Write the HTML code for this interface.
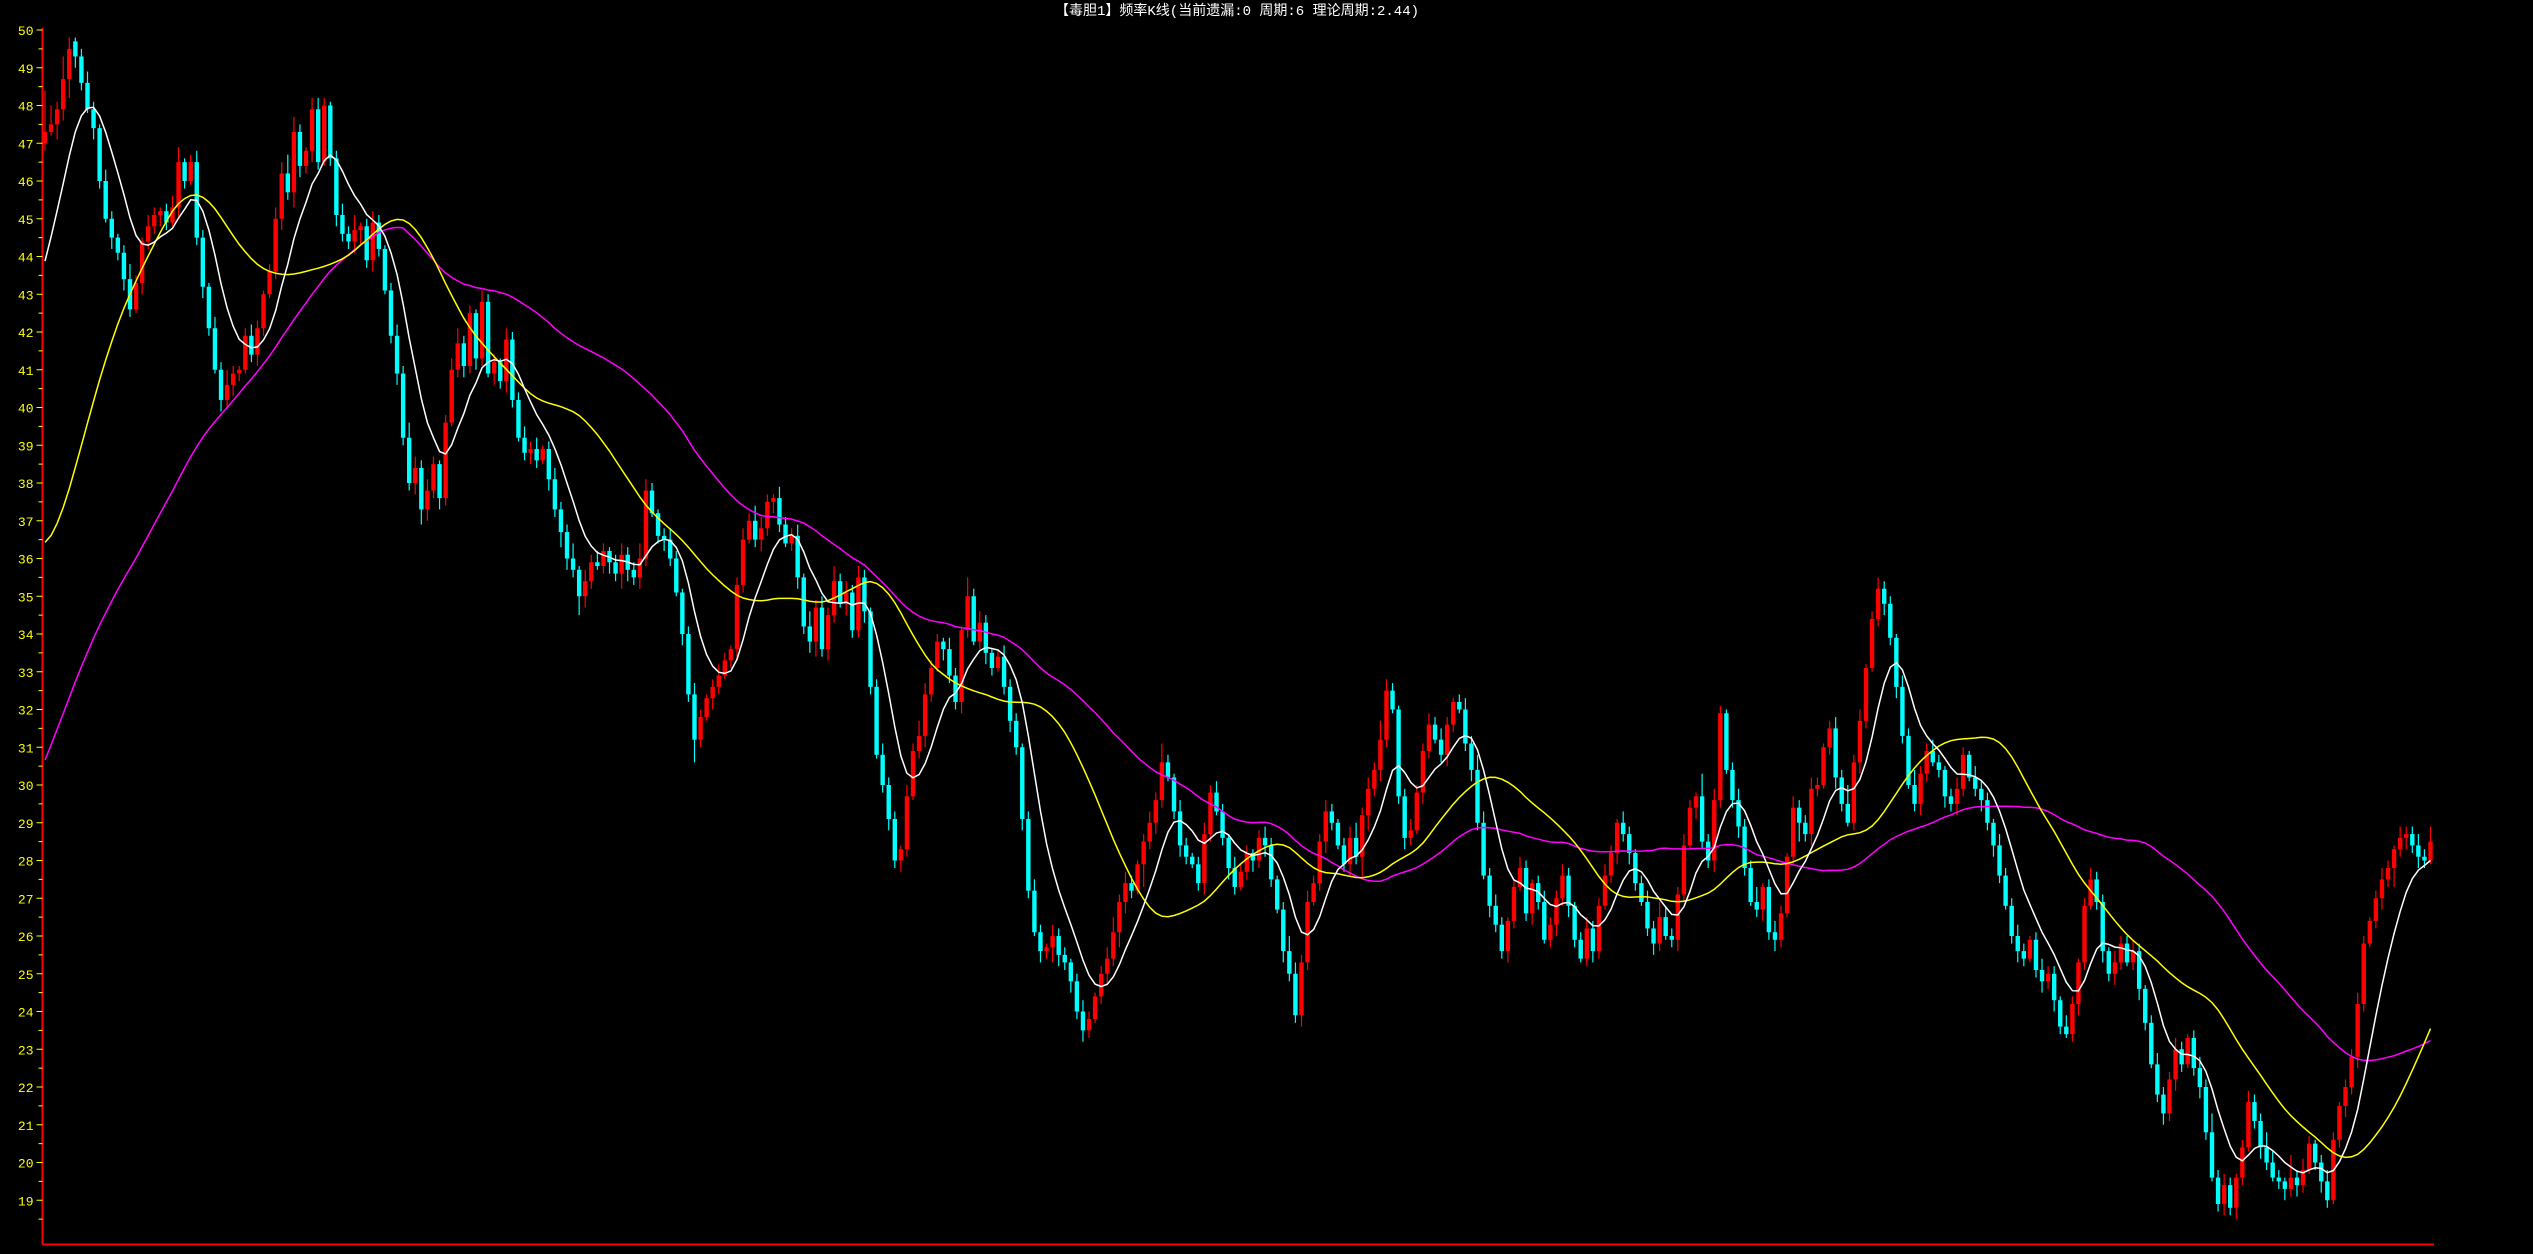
<!DOCTYPE html>
<html><head><meta charset="utf-8"><title>频率K线</title>
<style>
html,body{margin:0;padding:0;background:#000;width:2533px;height:1254px;overflow:hidden}
svg{display:block}
</style></head>
<body>
<svg id="chart" width="2533" height="1254" xmlns="http://www.w3.org/2000/svg">
<rect x="0" y="0" width="2533" height="1254" fill="#000"/>
<text x="1237" y="15" fill="#ffffff" font-size="14" text-anchor="middle" font-family="'Liberation Mono','Noto Sans CJK SC',monospace">【毒胆1】频率K线(当前遗漏:0 周期:6 理论周期:2.44)</text>
<g id="axis"></g>
<g id="candles"></g>
<g id="lines"></g>
</svg>
<script>
const closes=[47.3,47.5,47.9,48.7,49.5,49.3,48.6,47.9,47.4,46.0,
45.0,44.5,44.1,43.4,42.6,43.3,44.4,44.8,45.1,45.2,
44.9,45.3,46.5,46.0,46.5,44.5,43.2,42.1,41.0,40.2,
40.6,40.9,41.0,41.9,41.4,42.1,43.0,43.6,45.0,46.2,
45.7,47.3,46.4,46.8,47.9,46.5,48.0,46.6,45.1,44.6,
44.4,44.7,44.8,43.9,44.9,44.2,43.1,41.9,40.9,39.2,
38.0,38.4,37.3,37.8,38.5,37.6,39.6,41.0,41.7,41.1,
42.5,41.3,42.8,40.9,41.2,40.7,41.8,40.2,39.2,38.8,
38.9,38.6,38.9,38.1,37.3,36.7,36.0,35.7,35.0,35.4,
35.9,35.8,36.2,35.9,35.6,36.1,35.7,35.5,36.0,37.8,
37.2,36.6,36.5,36.0,35.1,34.0,32.4,31.2,31.8,32.3,
32.6,32.9,33.3,33.6,35.3,36.5,37.0,36.5,36.8,37.5,
37.6,36.9,36.4,36.6,35.5,34.2,33.8,34.7,33.6,34.5,
35.4,34.8,35.1,34.1,35.5,34.6,32.6,30.8,30.0,29.1,
28.0,28.3,29.7,30.9,31.3,32.4,33.1,33.8,33.6,32.9,
32.2,34.1,35.0,33.8,34.3,33.5,33.1,33.4,32.6,31.7,
31.0,29.1,27.2,26.1,25.6,25.7,26.0,25.5,25.3,24.8,
24.0,23.5,23.8,24.4,25.0,25.4,26.1,26.9,27.4,27.2,
27.9,28.5,29.0,29.6,30.6,30.2,29.3,28.4,28.1,27.9,
27.4,28.7,29.8,29.3,28.6,27.8,27.3,27.7,28.2,28.0,
28.6,28.4,27.5,26.7,25.6,25.0,23.9,25.3,26.9,27.4,
28.5,29.3,29.0,28.4,27.9,28.6,28.1,29.2,29.9,30.4,
31.2,32.5,32.0,29.7,28.6,28.8,29.8,30.9,31.6,31.2,
30.8,31.6,32.2,32.0,31.1,30.4,29.0,27.6,26.8,26.3,
25.6,26.4,27.3,27.8,26.6,27.4,26.9,25.9,26.3,27.0,
27.6,26.8,25.9,25.4,26.2,25.6,26.8,27.6,28.2,29.0,
28.7,28.2,27.4,26.9,26.2,25.8,26.5,26.0,25.9,27.1,
28.4,29.4,29.7,28.5,28.0,29.6,31.9,30.4,29.6,28.9,
27.8,26.9,26.7,27.3,26.1,25.9,26.6,28.1,29.4,29.0,
28.7,29.9,30.0,31.0,31.5,30.2,29.5,29.0,30.6,31.7,
33.1,34.4,35.2,34.8,33.9,32.6,31.3,30.0,29.5,30.3,
30.9,30.6,30.4,29.7,29.5,29.9,30.8,30.2,29.9,29.6,
29.0,28.4,27.6,26.8,26.0,25.6,25.4,25.9,25.1,24.8,
25.0,24.3,23.6,23.4,24.2,25.3,26.8,27.5,26.9,25.6,
25.0,25.3,25.8,25.3,25.6,24.6,23.7,22.6,21.8,21.3,
22.2,23.0,22.6,23.3,22.5,22.0,20.8,19.6,18.9,19.4,
18.8,19.6,20.4,21.6,21.1,20.4,20.0,19.6,19.5,19.3,
19.6,19.4,19.8,20.5,20.0,19.5,19.0,20.6,21.5,22.0,
22.8,24.2,25.8,26.4,27.0,27.5,27.8,28.3,28.6,28.7,
28.4,28.1,28.0,28.5];
const opens=[47.0,47.3,47.5,47.9,48.7,49.7,49.3,48.6,47.9,47.4,
46.0,45.0,44.5,44.1,43.4,42.6,43.3,44.4,44.8,45.1,
45.2,44.9,45.3,46.5,46.0,46.5,44.5,43.2,42.1,41.0,
40.2,40.6,40.9,41.0,41.9,41.4,42.1,43.0,43.6,45.0,
46.2,45.7,47.3,46.4,46.8,47.9,46.5,48.0,46.6,45.1,
44.6,44.4,44.7,44.8,43.9,44.9,44.2,43.1,41.9,40.9,
39.2,38.0,38.4,37.3,37.8,38.5,37.6,39.6,41.0,41.7,
41.1,42.5,41.3,42.8,40.9,41.2,40.7,41.8,40.2,39.2,
38.8,38.9,38.6,38.9,38.1,37.3,36.7,36.0,35.7,35.0,
35.4,35.9,35.8,36.2,35.9,35.6,36.1,35.7,35.5,36.0,
37.8,37.2,36.6,36.5,36.0,35.1,34.0,32.4,31.2,31.8,
32.3,32.6,32.9,33.3,33.6,35.3,36.5,37.0,36.5,36.8,
37.5,37.6,36.9,36.4,36.6,35.5,34.2,33.8,34.7,33.6,
34.5,35.4,34.8,35.1,34.1,35.5,34.6,32.6,30.8,30.0,
29.1,28.0,28.3,29.7,30.9,31.3,32.4,33.1,33.8,33.6,
32.9,32.2,34.1,35.0,33.8,34.3,33.5,33.1,33.4,32.6,
31.7,31.0,29.1,27.2,26.1,25.6,25.7,26.0,25.5,25.3,
24.8,24.0,23.5,23.8,24.4,25.0,25.4,26.1,26.9,27.4,
27.2,27.9,28.5,29.0,29.6,30.6,30.2,29.3,28.4,28.1,
27.9,27.4,28.7,29.8,29.3,28.6,27.8,27.3,27.7,28.2,
28.0,28.6,28.4,27.5,26.7,25.6,25.0,23.9,25.3,26.9,
27.4,28.5,29.3,29.0,28.4,27.9,28.6,28.1,29.2,29.9,
30.4,31.2,32.5,32.0,29.7,28.6,28.8,29.8,30.9,31.6,
31.2,30.8,31.6,32.2,32.0,31.1,30.4,29.0,27.6,26.8,
26.3,25.6,26.4,27.3,27.8,26.6,27.4,26.9,25.9,26.3,
27.0,27.6,26.8,25.9,25.4,26.2,25.6,26.8,27.6,28.2,
29.0,28.7,28.2,27.4,26.9,26.2,25.8,26.5,26.0,25.9,
27.1,28.4,29.4,29.7,28.5,28.0,29.6,31.9,30.4,29.6,
28.9,27.8,26.9,26.7,27.3,26.1,25.9,26.6,28.1,29.4,
29.0,28.7,29.9,30.0,31.0,31.5,30.2,29.5,29.0,30.6,
31.7,33.1,34.4,35.2,34.8,33.9,32.6,31.3,30.0,29.5,
30.3,30.9,30.6,30.4,29.7,29.5,29.9,30.8,30.2,29.9,
29.6,29.0,28.4,27.6,26.8,26.0,25.6,25.4,25.9,25.1,
24.8,25.0,24.3,23.6,23.4,24.2,25.3,26.8,27.5,26.9,
25.6,25.0,25.3,25.8,25.3,25.6,24.6,23.7,22.6,21.8,
21.3,22.2,23.0,22.6,23.3,22.5,22.0,20.8,19.6,18.9,
19.4,18.8,19.6,20.4,21.6,21.1,20.4,20.0,19.6,19.5,
19.3,19.6,19.4,19.8,20.5,20.0,19.5,19.0,20.6,21.5,
22.0,22.8,24.2,25.8,26.4,27.0,27.5,27.8,28.3,28.6,
28.7,28.4,28.1,28.0];
// closes before the visible window (feed the moving averages only)
const priorCloses=[23.0,23.4,23.1,23.8,24.2,24.0,24.6,25.1,24.8,25.3,
25.7,25.4,26.0,26.3,26.1,26.6,26.9,26.7,27.2,27.5,
27.3,27.8,28.1,27.9,28.4,28.6,28.3,28.9,29.2,29.0,
29.5,29.8,29.6,30.1,30.4,30.2,30.7,31.0,30.8,31.3,
32.0,32.6,33.1,33.5,34.0,34.4,34.9,35.3,35.6,36.0,
36.3,36.7,37.1,37.5,37.9,38.3,38.7,39.1,39.6,40.2];
// wick extents above/below body, in tenths
const upperWicks=[11,5,2,6,3,1,2,3,2,1,3,2,1,2,4,2,1,3,2,1,
2,3,4,1,2,3,2,1,3,2,4,2,1,2,3,2,1,2,3,3,5,4,2,1,3,3,2,1,2,3,
2,4,1,2,3,2,1,2,3,2,4,3,2,3,2,1,2,3,4,2,2,1,3,2,2,1,3,2,2,3,
2,3,1,2,3,2,2,4,1,3,2,3,2,1,2,3,2,2,4,3,2,1,2,3,2,1,2,3,2,1,
2,3,2,1,2,3,2,4,3,2,1,3,2,2,3,1,4,2,3,2,4,2,3,2,3,2,1,2,3,2,
2,1,3,2,4,3,2,2,1,3,2,1,5,2,3,2,1,2,3,2,2,1,2,3,2,1,3,2,2,1,
2,3,2,1,2,3,4,2,3,2,1,2,3,2,5,2,1,3,2,1,2,3,2,3,2,1,3,2,2,1,
2,3,2,1,2,4,3,2,3,2,2,3,2,1,2,3,4,2,3,2,5,3,2,1,2,3,2,2,3,2,
3,2,1,2,3,2,4,3,2,3,2,1,2,3,2,1,2,3,2,2,3,2,1,2,3,2,2,3,2,1,
3,2,1,2,3,2,4,3,2,2,3,2,1,6,2,3,2,1,2,3,2,2,4,1,2,3,2,1,3,2,
2,3,2,1,2,3,2,5,2,3,1,2,3,2,2,1,3,2,4,2,2,3,2,1,2,3,2,1,3,2,
2,1,3,2,2,3,2,1,2,3,2,2,1,3,2,1,2,3,2,2,1,3,2,2,3,2,1,2,3,2,
2,3,2,1,2,3,2,5,2,3,2,1,2,3,2,2,4,3,2,1,6,2,3,2,1,2,3,2,1,2,
2,3,2,1,2,3,2,1,3,2,2,3,2,4,3,2,1,2,3,7,2,3,2,1,3,2,4,2,3,2,
2,1,3,2,2,3,2,1,2,3,2,2,1,3,2,2,1,3,2,2,3,2,1,2,3,2,2,1,2,3,
2,3,2,1,2,3,2,1,2,3,2,3,2,1,2,3,4,3,2,3,2,1,3,2,4,2,1,3,2,2,
2,3,2,1,2,3,2,2,1,3,2,2,3,2,1,2,3,2,2,2,7,4,2,6,1,2,3,2,1,2];
const lowerWicks=[2,1,4,3,5,3,2,1,3,2,1,3,2,3,2,1,3,2,2,3,
2,1,3,2,1,2,3,2,1,3,2,3,2,1,2,3,2,1,2,3,2,4,3,2,3,2,1,2,3,2,
2,3,4,2,3,2,1,2,3,2,2,3,4,3,2,3,2,1,2,3,2,3,2,1,3,2,3,2,1,2,
3,2,1,3,2,4,3,2,5,3,2,1,2,3,2,4,3,2,3,2,1,2,3,2,1,3,2,6,2,1,
3,2,1,2,3,2,1,2,3,2,3,2,1,2,3,2,3,4,2,3,2,1,3,2,2,3,2,1,2,3,
2,3,2,1,2,3,2,1,3,2,2,3,2,1,2,3,2,1,2,3,2,3,2,1,3,2,4,3,2,3,
2,3,2,1,2,3,2,4,3,2,1,6,2,3,2,1,2,3,2,1,2,3,2,1,2,3,2,1,2,3,
2,3,2,1,3,2,2,3,2,1,2,3,2,1,2,3,2,6,4,2,3,2,1,2,3,2,1,3,2,1,
2,3,2,1,2,3,2,1,3,2,2,3,2,1,2,3,2,1,2,3,2,3,2,1,2,3,2,1,2,3,
2,3,2,1,2,3,2,1,2,3,2,1,3,2,2,3,2,1,2,3,2,1,2,3,2,3,2,1,2,5,
2,3,2,1,2,3,2,1,2,3,2,1,2,3,2,3,2,1,2,3,2,1,2,3,2,3,2,1,2,3,
2,3,2,1,2,3,2,1,2,3,2,3,2,1,2,3,2,1,2,3,2,3,2,1,2,3,2,1,2,3,
2,3,2,1,2,3,2,1,2,3,2,3,2,1,2,3,2,1,2,3,2,3,2,1,2,3,2,1,2,3,
2,3,2,1,2,3,2,5,2,3,2,3,2,1,2,3,2,1,2,3,2,3,2,1,2,3,2,1,2,3,
2,3,2,1,2,3,2,1,2,3,2,3,2,1,2,3,2,4,2,3,2,3,2,1,2,3,2,1,2,3,
2,3,2,1,2,3,2,1,2,3,2,3,2,1,4,3,2,1,2,3,2,3,2,1,5,3,2,1,2,3,
2,3,2,1,2,3,2,1,2,3,2,3,2,1,2,3,2,1,2,3,2,3,2,1,2,3,2,1,2,6];
const yTicks=[19,20,21,22,23,24,25,26,27,28,29,30,31,32,33,34,35,36,37,38,39,40,41,42,43,44,45,46,47,48,49,50];
const shortSeed=43.4;
const NS='http://www.w3.org/2000/svg';
const X0=45,DX=6.07,AXX=42.5,BOTTOM=1244.5,RIGHT=2434;
function xs(i){return X0+i*DX;}
function ys(v){return 30+(50-v)*37.75;}
function mk(tag,attrs,parent){const e=document.createElementNS(NS,tag);for(const k in attrs)e.setAttribute(k,attrs[k]);parent.appendChild(e);return e;}
const axis=document.getElementById('axis');
let a=mk('line',{x1:AXX,y1:28,x2:AXX,y2:BOTTOM,stroke:'#ff0000','stroke-width':2},axis);


a=mk('line',{x1:AXX,y1:BOTTOM,x2:RIGHT,y2:BOTTOM,stroke:'#ff0000','stroke-width':2},axis);


yTicks.forEach(v=>{
  const y=ys(v);
  const t=mk('line',{x1:AXX-6,y1:y,x2:AXX,y2:y,stroke:'#ffff00','stroke-width':1},axis);
  
  
  const h=mk('line',{x1:AXX-4,y1:ys(v-0.5),x2:AXX,y2:ys(v-0.5),stroke:'#ffff00','stroke-width':1},axis);
  
  
  const l=mk('text',{x:AXX-9,y:y+5,fill:'#ffff00','font-size':13,'text-anchor':'end','font-family':"'Liberation Mono',monospace"},axis);
  l.textContent=v;
  
  
});
const cg=document.getElementById('candles');
closes.forEach((c,i)=>{
  const o=opens[i];const up=c>=o;const col=up?'#ff0000':'#00ffff';
  const hi=Math.max(o,c)+upperWicks[i]/10, lo=Math.min(o,c)-lowerWicks[i]/10;
  const x=xs(i);
  const g=mk('g',{},cg);
  
  
  mk('line',{x1:x,y1:ys(hi),x2:x,y2:ys(lo),stroke:col,'stroke-width':1.2},g);
  const top=ys(Math.max(o,c)),bh=Math.max(1.5,ys(Math.min(o,c))-top);
  mk('rect',{x:x-2.2,y:top,width:4.4,height:bh,fill:col},g);
});
function ema(arr,alpha,seed){const out=[];let s=seed;arr.forEach(v=>{s=s+alpha*(v-s);out.push(s);});return out;}
function sma(n){const all=priorCloses.concat(closes);const P=priorCloses.length;const out=[];
  for(let i=0;i<closes.length;i++){let s=0;for(let k=P+i-n+1;k<=P+i;k++)s+=all[k];out.push(s/n);}return out;}
const white=ema(ema(closes,0.35,shortSeed),0.35,shortSeed);
const midRaw=sma(22);
const yellow=ema(midRaw,0.25,midRaw[0]);
const magenta=sma(60);
const lg=document.getElementById('lines');
[[magenta,'#ff00ff','ma-long-line'],[yellow,'#ffff00','ma-mid-line'],[white,'#ffffff','ma-short-line']].forEach(([s,col,name])=>{
  const p=mk('polyline',{points:s.map((v,i)=>xs(i).toFixed(1)+','+ys(v).toFixed(1)).join(' '),fill:'none',stroke:col,'stroke-width':1.5},lg);
  
  
});
</script>
</body></html>
